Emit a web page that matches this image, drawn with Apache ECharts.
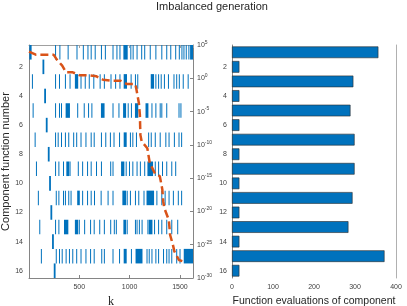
<!DOCTYPE html>
<html>
<head>
<meta charset="utf-8">
<script src="https://cdn.jsdelivr.net/npm/echarts@6/dist/echarts.min.js"></script>
<style>html,body{margin:0;padding:0;background:#fff}#c{width:407px;height:306px}</style>
</head>
<body>
<div id="c"></div>
<script>
const categories = ['1','2','3','4','5','6','7','8','9','10','11','12','13','14','15','16'];
const evalCounts = [357, 18, 296, 18, 289, 18, 299, 18, 299, 18, 294, 18, 284, 18, 372, 18];

const row1 = [[8,21],264,307,389,477,540,586,618,658,720,759,835,874,904,[943,976],1012,1035,1074,1120,1150,1205,1261,1320,1369,1409,1458,1494,1520,1540,1563,1589,[1606,1630]];
const row2 = [[139,147]];
const row3 = [34,264,303,362,408,[461,484],517,559,599,644,707,749,815,861,904,[946,969],1015,1058,1081,[1215,1238],1261,1288,1314,1346,1386,1441,1468,1494,1533,1582];
const row4 = [[156,164]];
const row5 = [41,264,303,323,[369,402],484,549,592,625,[720,746],835,894,[940,960],986,1018,[1058,1081],[1163,1182],1222,1261,1304,1320,1369,1491,1510];
const row6 = [[172,180]];
const row7 = [61,264,290,323,362,395,444,474,517,566,618,648,720,763,809,845,900,[946,966],1008,1032,1068,1189,1215,1255,1304,1360,1392,1445,1491,1517];
const row8 = [[192,200]];
const row9 = [74,264,297,343,[376,395],408,490,533,582,618,671,720,812,835,[920,943],966,999,1032,1074,1107,1150,[1182,1228],1255,1288,1327,1369,1419,1458];
const row10 = [[205,213]];
const row11 = [93,271,297,343,362,395,418,[484,500],533,582,618,651,717,786,835,[933,960],976,1008,1058,1091,1143,[1173,1238],1271,1320,1353,1392,1435,1484,1517];
const row12 = [[218,226]];
const row13 = [107,264,297,[353,386],[461,484],500,553,612,648,703,749,812,848,868,[943,960],976,1058,1074,1097,1124,1182,[1195,1222],1248,1288,1320,1369,1419,1478];
const row14 = [[234,242]];
const row15 = [123,271,303,330,369,402,435,474,517,566,612,648,723,749,835,900,[946,966],1018,[1064,1123],1173,1195,1222,1261,1288,1337,1369,1392,1419,1468,1501,[1543,1630]];
const row16 = [[251,259]];

// residual (log10 of value) along k
const residualK = [0, 67, 244, 277, 330, 369, 435, 507, 592, 671, 736, 822, 910, 976, 1058, 1092, 1102, 1107, 1120, 1176, 1200, 1255, 1300, 1314, 1325, 1334, 1345, 1390, 1402, 1430, 1445, 1490, 1533];
const residualExp = [4.0, 3.55, 3.55, 2.8, 1.9, 0.9, 0.9, 0.44, 0.44, 0.29, -0.22, -0.37, -0.37, -0.87, -0.87, -3.7, -5.5, -8.5, -9.5, -10.5, -12.7, -14.4, -14.7, -15.8, -16.7, -18.5, -19.5, -21.3, -23.5, -25.0, -26.0, -27.3, -27.5];

const xTicks = [500, 1000, 1500];
const expTicks = [5, 0, -5, -10, -15, -20, -25, -30];

const rows = [row1,row2,row3,row4,row5,row6,row7,row8,row9,row10,row11,row12,row13,row14,row15,row16];
const events = [];
rows.forEach((r, i) => r.forEach(e => {
  const a = Array.isArray(e) ? e[0] : e;
  const b = Array.isArray(e) ? e[1] : e;
  events.push([a, b, i]);
}));

const FONT = 'Liberation Sans, Arial, Helvetica, sans-serif';
const AX = '#858585';
const LAB = '#404040';
const evenOnly = (idx) => idx % 2 === 1;

const chart = echarts.init(document.getElementById('c'), null, {renderer: 'canvas'});
chart.setOption({
  animation: false,
  backgroundColor: '#fff',
  title: {
    text: 'Imbalanced generation', left: 212, top: 1, padding: 0, textAlign: 'center',
    textStyle: {fontFamily: FONT, fontSize: 11, fontWeight: 'normal', color: '#262626'}
  },
  grid: [
    {left: 29, top: 45, width: 164, height: 233, containLabel: false, outerBoundsMode: 'none'},
    {left: 232, top: 45, width: 164, height: 233, containLabel: false, outerBoundsMode: 'none'}
  ],
  xAxis: [
    {gridIndex: 0, type: 'value', position: 'bottom', min: 0, max: 1630, interval: 500,
     name: 'k', nameLocation: 'middle', nameGap: 14,
     nameTextStyle: {fontFamily: 'Liberation Serif, Times New Roman, serif', fontSize: 12, color: '#262626'},
     axisLine: {onZero: false, lineStyle: {color: AX}}, axisTick: {inside: true, length: 3, lineStyle: {color: AX}},
     axisLabel: {fontFamily: FONT, fontSize: 7, color: LAB, margin: 6, showMinLabel: false, showMaxLabel: false,
       formatter: v => xTicks.indexOf(v) >= 0 ? String(v) : ''},
     splitLine: {show: false}},
    {gridIndex: 0, type: 'value', position: 'top', min: 0, max: 1630, interval: 500,
     axisLine: {onZero: false, lineStyle: {color: '#a0a0a0'}}, axisTick: {inside: true, length: 3, lineStyle: {color: '#a0a0a0'}},
     axisLabel: {show: false}, splitLine: {show: false}},
    {gridIndex: 1, type: 'value', position: 'bottom', min: 0, max: 400, interval: 100,
     name: 'Function evaluations of component', nameLocation: 'middle', nameGap: 15,
     nameTextStyle: {fontFamily: FONT, fontSize: 10.5, color: '#262626'},
     axisLine: {onZero: false, lineStyle: {color: AX}}, axisTick: {inside: true, length: 3, lineStyle: {color: AX}},
     axisLabel: {fontFamily: FONT, fontSize: 7, color: LAB, margin: 6},
     splitLine: {show: false}},
    {gridIndex: 1, type: 'value', position: 'top', min: 0, max: 400, interval: 100,
     axisLine: {onZero: false, lineStyle: {color: '#b0b0b0'}}, axisTick: {inside: true, length: 3, lineStyle: {color: '#b0b0b0'}},
     axisLabel: {show: false}, splitLine: {show: false}}
  ],
  yAxis: [
    {gridIndex: 0, type: 'category', data: categories, inverse: true, position: 'left',
     name: 'Component function number', nameLocation: 'middle', nameGap: 17, nameRotate: 90,
     nameTextStyle: {fontFamily: FONT, fontSize: 11, color: '#262626'},
     axisLine: {onZero: false, lineStyle: {color: AX}},
     axisTick: {inside: true, length: 3, alignWithLabel: true, interval: evenOnly, lineStyle: {color: AX}},
     axisLabel: {interval: evenOnly, fontFamily: FONT, fontSize: 7, color: LAB, margin: 6},
     splitLine: {show: false}},
    {gridIndex: 0, type: 'value', position: 'right', min: -30, max: 5, interval: 5,
     axisLine: {show: true, onZero: false, lineStyle: {color: AX}}, axisTick: {show: true, inside: true, length: 3, lineStyle: {color: AX}},
     axisLabel: {fontFamily: FONT, fontSize: 7, color: LAB, margin: 4, align: 'left',
       formatter: v => expTicks.indexOf(v) >= 0 ? '{b|10}{s|' + v + '}' : '',
       rich: {b: {fontFamily: FONT, fontSize: 7, color: LAB},
              s: {fontFamily: FONT, fontSize: 5, color: LAB, verticalAlign: 'bottom', padding: [0, 0, 5, 0]}}},
     splitLine: {show: false}},
    {gridIndex: 1, type: 'category', data: categories, inverse: true, position: 'left',
     axisLine: {onZero: false, lineStyle: {color: AX}},
     axisTick: {inside: true, length: 3, alignWithLabel: true, interval: evenOnly, lineStyle: {color: AX}},
     axisLabel: {interval: evenOnly, fontFamily: FONT, fontSize: 7, color: LAB, margin: 5},
     splitLine: {show: false}},
    {gridIndex: 1, type: 'category', data: categories, inverse: true, position: 'right',
     axisLine: {onZero: false, lineStyle: {color: '#b0b0b0'}},
     axisTick: {inside: true, length: 3, alignWithLabel: true, interval: evenOnly, lineStyle: {color: '#b0b0b0'}},
     axisLabel: {show: false}, splitLine: {show: false}}
  ],
  series: [
    {type: 'custom', xAxisIndex: 0, yAxisIndex: 0, clip: true, z: 2,
     encode: {x: [0, 1], y: 2},
     data: events,
     renderItem: function (params, api) {
       const p0 = api.coord([api.value(0), api.value(2)]);
       const p1 = api.coord([api.value(1), api.value(2)]);
       const h = api.size([0, 1])[1];
       const x0 = p0[0] - 0.5;
       const w = Math.max(p1[0] - p0[0] + 1, 1);
       return {type: 'rect', shape: {x: x0, y: p0[1] - h / 2, width: w, height: h},
               style: {fill: '#0072BD'}};
     }},
    {type: 'line', xAxisIndex: 0, yAxisIndex: 1, z: 5,
     data: residualK.map((k, i) => [k, residualExp[i]]),
     showSymbol: false, symbol: 'none',
     lineStyle: {color: '#D95319', width: 2.5, type: [8, 4]}},
    {type: 'bar', xAxisIndex: 2, yAxisIndex: 2, data: evalCounts, barWidth: '80%',
     itemStyle: {color: '#0072BD', borderColor: '#2a2a2a', borderWidth: 0.6}}
  ]
});
</script>
</body>
</html>
